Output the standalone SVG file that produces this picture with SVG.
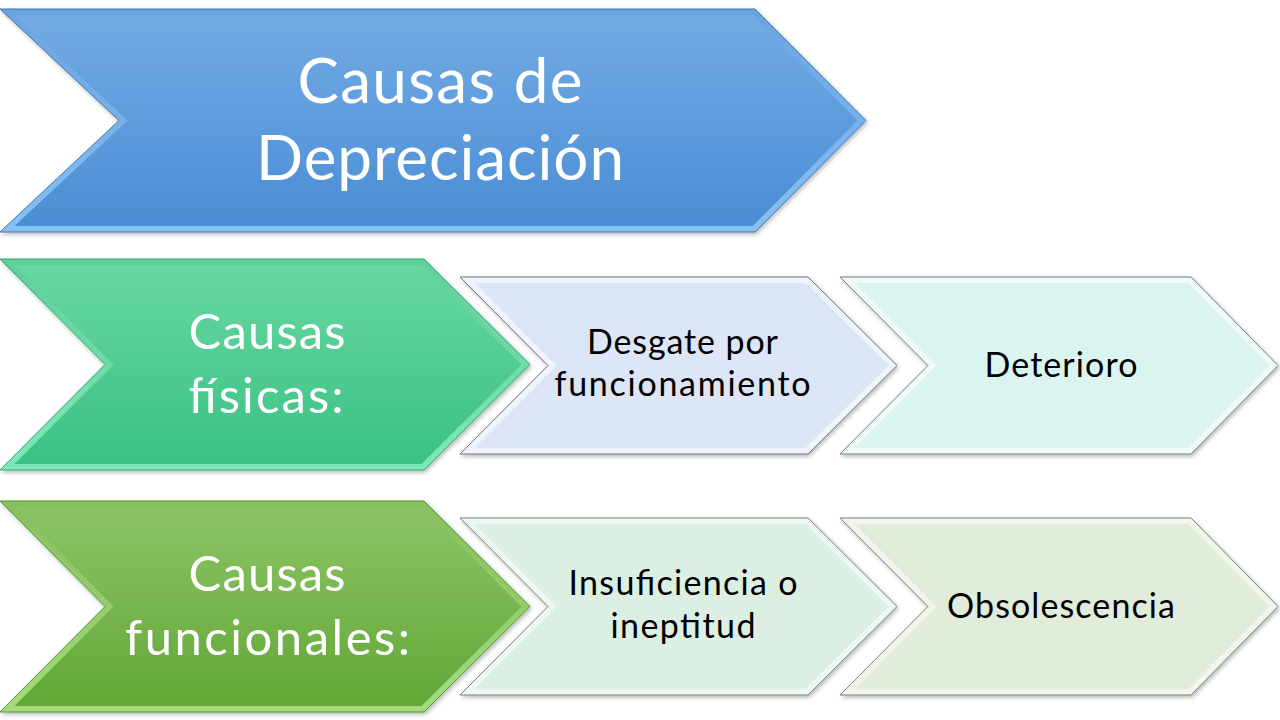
<svg xmlns="http://www.w3.org/2000/svg" width="1280" height="720" viewBox="0 0 1280 720">
  <defs>
    <linearGradient id="gBlue" x1="0" y1="0" x2="0" y2="1">
      <stop offset="0" stop-color="#73abe5"/>
      <stop offset="1" stop-color="#4a8dd4"/>
    </linearGradient>
    <linearGradient id="gBlueEdge" x1="0" y1="0" x2="0" y2="1">
      <stop offset="0" stop-color="#6aa3de"/>
      <stop offset="1" stop-color="#86c0f4"/>
    </linearGradient>
    <linearGradient id="gMint" x1="0" y1="0" x2="0" y2="1">
      <stop offset="0" stop-color="#68d7a2"/>
      <stop offset="1" stop-color="#3bc183"/>
    </linearGradient>
    <linearGradient id="gMintEdge" x1="0" y1="0" x2="0" y2="1">
      <stop offset="0" stop-color="#5fcf99"/>
      <stop offset="1" stop-color="#7ee9b6"/>
    </linearGradient>
    <linearGradient id="gLeaf" x1="0" y1="0" x2="0" y2="1">
      <stop offset="0" stop-color="#8dc466"/>
      <stop offset="1" stop-color="#62a737"/>
    </linearGradient>
    <linearGradient id="gLeafEdge" x1="0" y1="0" x2="0" y2="1">
      <stop offset="0" stop-color="#86bf5e"/>
      <stop offset="1" stop-color="#a2dc7c"/>
    </linearGradient>
    <filter id="shadow" x="-5%" y="-5%" width="110%" height="115%">
      <feDropShadow dx="1.5" dy="2" stdDeviation="2" flood-color="#000" flood-opacity="0.28"/>
    </filter>
  </defs>
  <style>
    .outer { stroke-width: 1; filter: url(#shadow); }
    .blue .outer { fill: url(#gBlueEdge); stroke: #3f78b6; }
    .blue .inner { fill: url(#gBlue); }
    .mint .outer { fill: url(#gMintEdge); stroke: #34a571; }
    .mint .inner { fill: url(#gMint); }
    .leaf .outer { fill: url(#gLeafEdge); stroke: #579530; }
    .leaf .inner { fill: url(#gLeaf); }
    .lav .outer { fill: #eef3fc; stroke: #6f757c; }
    .lav .inner { fill: #dce6f7; }
    .aqua .outer { fill: #effbf9; stroke: #76817f; }
    .aqua .inner { fill: #daf4f0; }
    .sage .outer { fill: #eef8f2; stroke: #76817b; }
    .sage .inner { fill: #dcefe3; }
    .moss .outer { fill: #f0f6ec; stroke: #78807a; }
    .moss .inner { fill: #e1ecdb; }
    text { font-family: Lato, "Open Sans", "Liberation Sans", sans-serif; text-anchor: middle; }
    .white { fill: #ffffff; }
    .dark { fill: #000000; }
    .t1 { font-size: 62px; }
    .t2 { font-size: 49px; }
    .t3 { font-size: 34px; }
  </style>

  <g id="node-causas-depreciacion" class="blue">
    <polygon class="outer" points="0,9 755,9 866,120.5 755,232 0,232 119,120.5"/>
    <polygon class="inner" points="14.5,15 752.5,15 857.5,120.5 752.5,226 14.5,226 127.5,120.5"/>
    <text class="white t1" x="440" y="103" textLength="285">Causas de</text>
    <text class="white t1" x="440" y="180" textLength="368">Depreciación</text>
  </g>

  <g id="node-causas-fisicas" class="mint">
    <polygon class="outer" points="0,259 424,259 530,364.5 424,470 0,470 105,364.5"/>
    <polygon class="inner" points="14.5,265 421.5,265 521.5,364.5 421.5,464 14.5,464 113.5,364.5"/>
    <text class="white t2" x="267" y="349" textLength="157">Causas</text>
    <text class="white t2" x="266" y="413" textLength="155">físicas:</text>
  </g>

  <g id="node-desgate" class="lav">
    <polygon class="outer" points="460,277 808,277 897,365.5 808,454 460,454 548,365.5"/>
    <polygon class="inner" points="474.5,283 805.5,283 888.5,365.5 805.5,448 474.5,448 556.5,365.5"/>
    <text class="dark t3" x="682.5" y="354" textLength="191">Desgate por</text>
    <text class="dark t3" x="682.5" y="396" textLength="256">funcionamiento</text>
  </g>

  <g id="node-deterioro" class="aqua">
    <polygon class="outer" points="840,277 1191,277 1278,365.5 1191,454 840,454 928,365.5"/>
    <polygon class="inner" points="854.5,283 1188.5,283 1269.5,365.5 1188.5,448 854.5,448 936.5,365.5"/>
    <text class="dark t3" x="1061" y="377" textLength="153">Deterioro</text>
  </g>

  <g id="node-causas-funcionales" class="leaf">
    <polygon class="outer" points="0,501 424,501 530,606.5 424,712 0,712 105,606.5"/>
    <polygon class="inner" points="14.5,507 421.5,507 521.5,606.5 421.5,706 14.5,706 113.5,606.5"/>
    <text class="white t2" x="267" y="591" textLength="157">Causas</text>
    <text class="white t2" x="267.5" y="655" textLength="285">funcionales:</text>
  </g>

  <g id="node-insuficiencia" class="sage">
    <polygon class="outer" points="460,518 808,518 897,606.5 808,695 460,695 548,606.5"/>
    <polygon class="inner" points="474.5,524 805.5,524 888.5,606.5 805.5,689 474.5,689 556.5,606.5"/>
    <text class="dark t3" x="683" y="595" textLength="229">Insuficiencia o</text>
    <text class="dark t3" x="683" y="638" textLength="145">ineptitud</text>
  </g>

  <g id="node-obsolescencia" class="moss">
    <polygon class="outer" points="840,518 1191,518 1278,606.5 1191,695 840,695 928,606.5"/>
    <polygon class="inner" points="854.5,524 1188.5,524 1269.5,606.5 1188.5,689 854.5,689 936.5,606.5"/>
    <text class="dark t3" x="1061" y="618" textLength="228">Obsolescencia</text>
  </g>

  <g id="connectors"/>
</svg>
